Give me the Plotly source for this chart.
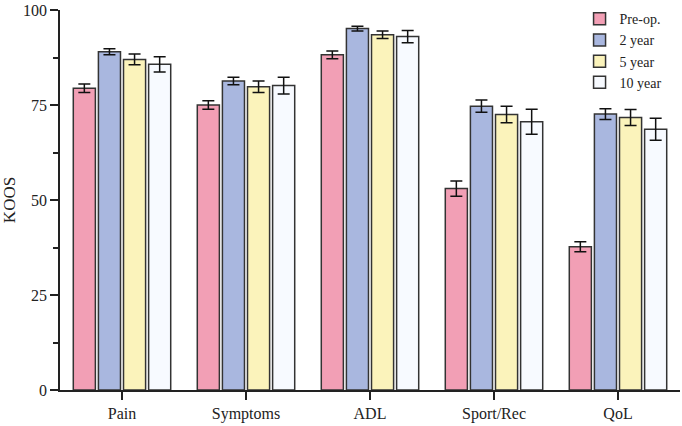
import plotly.graph_objects as go

categories = ["Pain", "Symptoms", "ADL", "Sport/Rec", "QoL"]
series_names = ["Pre-op.", "2 year", "5 year", "10 year"]
preop = [79.4, 75.0, 88.2, 53.0, 37.7]
preop_err = [1.1, 1.1, 1.0, 2.0, 1.3]
y2 = [89.0, 81.3, 95.1, 74.7, 72.6]
y2_err = [0.8, 1.0, 0.65, 1.6, 1.4]
y5 = [87.0, 79.8, 93.5, 72.5, 71.7]
y5_err = [1.4, 1.5, 1.0, 2.2, 2.1]
y10 = [85.7, 80.1, 93.0, 70.6, 68.6]
y10_err = [2.0, 2.2, 1.6, 3.3, 2.9]
colors = ["#F29FB5", "#A9B7DF", "#FBF3BB", "#F7FAFF"]
y_ticks = [0, 25, 50, 75, 100]

fig = go.Figure()
for name, vals, errs, c in zip(series_names, [preop, y2, y5, y10],
                               [preop_err, y2_err, y5_err, y10_err], colors):
    fig.add_trace(go.Bar(
        x=categories, y=vals, name=name,
        marker=dict(color=c, line=dict(color="#333333", width=1.5)),
        error_y=dict(type="data", array=errs, color="#111111", thickness=1.5, width=6),
    ))

font = "Liberation Serif, Times New Roman, serif"
fig.update_layout(
    width=682, height=426,
    margin=dict(l=60, r=2, t=10, b=36, autoexpand=False),
    plot_bgcolor="white", paper_bgcolor="white",
    barmode="group", bargap=0.19, bargroupgap=0.12,
    font=dict(family=font, size=16, color="#222222"),
    legend=dict(x=0.838, y=1.018, xanchor="left", yanchor="top", yref="paper",
                bgcolor="rgba(0,0,0,0)", font=dict(size=14), tracegroupgap=0),
    xaxis=dict(showline=True, linecolor="#222222", linewidth=1.5,
               ticks="outside", ticklen=8, tickwidth=1.5, tickcolor="#222222",
               range=[-0.5, 4.5], showgrid=False, zeroline=False),
    yaxis=dict(title=dict(text="KOOS", standoff=10, font=dict(size=17)), range=[0, 100], tickvals=y_ticks,
               showline=True, linecolor="#222222", linewidth=1.5,
               ticks="outside", ticklen=8, tickwidth=1.5, tickcolor="#222222",
               minor=dict(ticks="outside", ticklen=5, tickwidth=1.5, tickcolor="#222222", dtick=12.5),
               showgrid=False, zeroline=False),
)

fig.write_html("out.html", config={"displayModeBar": False},
               post_script="document.body.style.margin='0px';")
